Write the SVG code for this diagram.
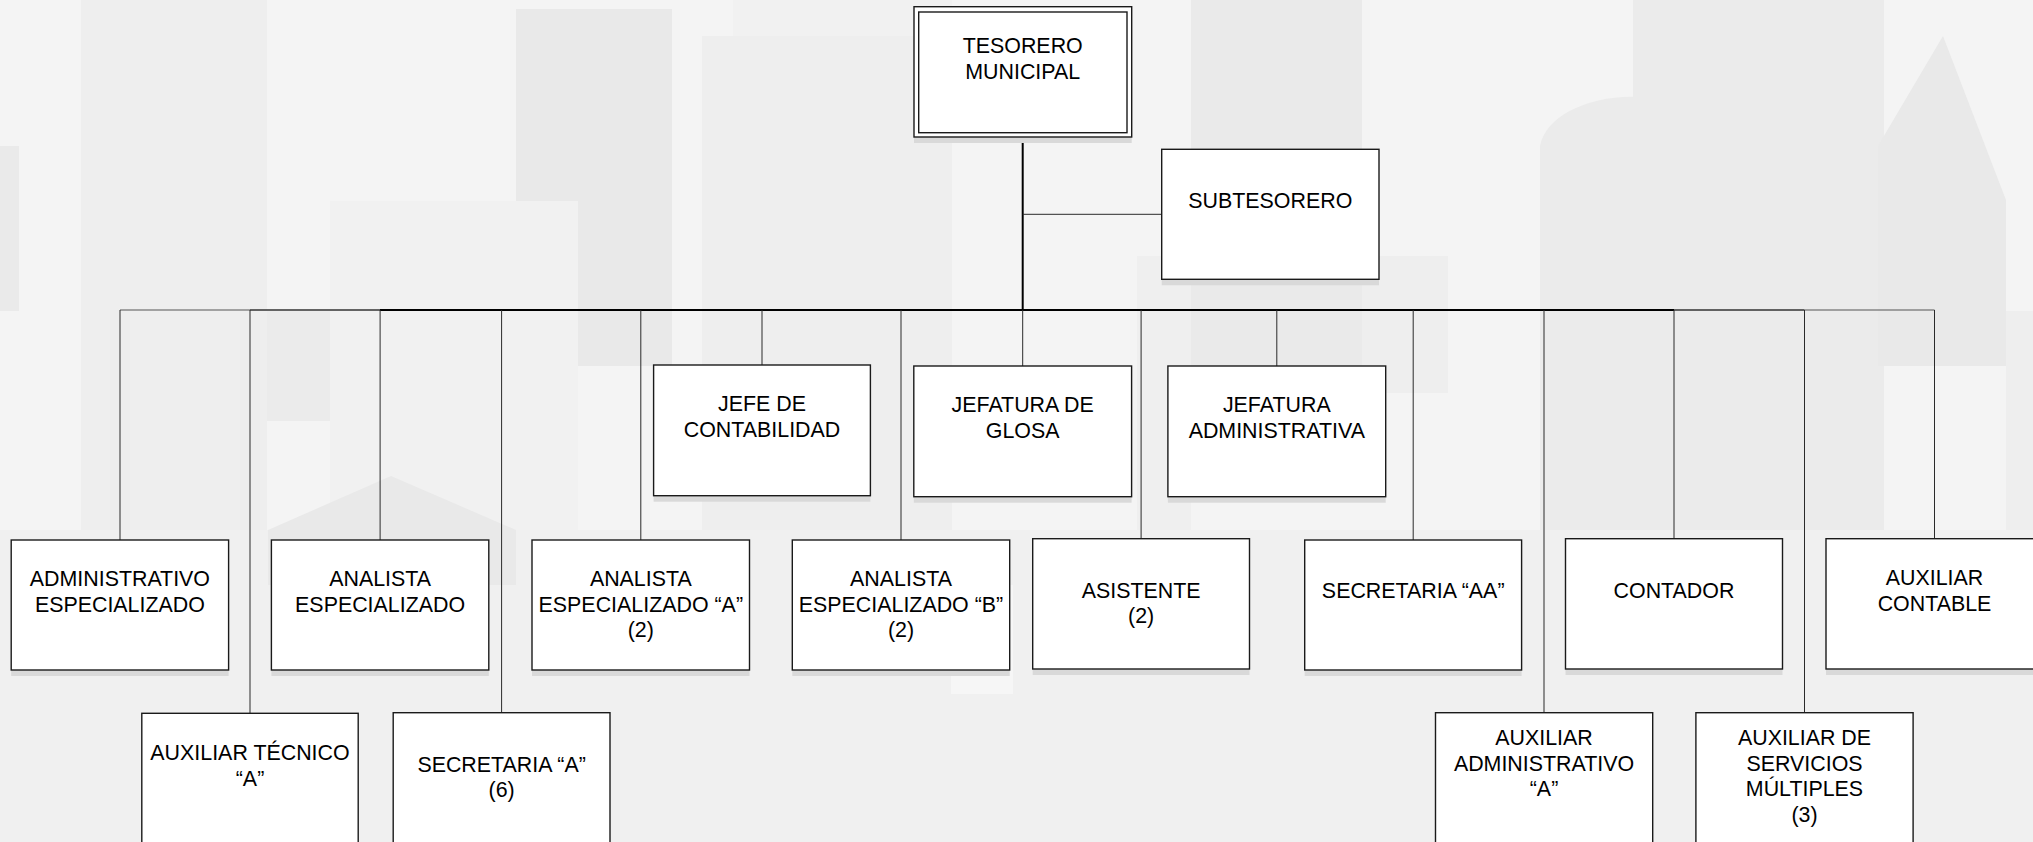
<svg xmlns="http://www.w3.org/2000/svg" width="2033" height="842" viewBox="0 0 2033 842">
<style>
.bx{fill:#ffffff;stroke:#1a1a1a;stroke-width:1.4}
.sh{fill:#d9d9d9}
.t{font-family:"Liberation Sans",Arial,sans-serif;font-size:21.4px;fill:#000;text-anchor:middle}
.c{stroke:#2a2a2a;stroke-width:1;fill:none}
</style>
<g id="background">
<rect x="0" y="0" width="2033" height="842" fill="#f4f4f4"/>
<rect x="0" y="530" width="2033" height="312" fill="#f0f0f0"/>
<rect x="0" y="146" width="19" height="165" fill="#eaeaea"/>
<rect x="81" y="0" width="186" height="530" fill="#eeeeee"/>
<rect x="267" y="311" width="63" height="110" fill="#ebebeb"/>
<rect x="516" y="9" width="156" height="357" fill="#e9e9e9"/>
<rect x="330" y="201" width="248" height="329" fill="#f1f1f1"/>
<polygon points="268,530 391,476 516,530 516,585 268,585" fill="#e9e9e9"/>
<rect x="733" y="0" width="219" height="36" fill="#f1f1f1"/>
<rect x="702" y="36" width="250" height="494" fill="#eeeeee"/>
<rect x="951" y="585" width="62" height="109" fill="#f6f6f6"/>
<rect x="1137" y="256" width="54" height="274" fill="#efefef"/>
<rect x="1191" y="0" width="171" height="421" fill="#eaeaea"/>
<rect x="1362" y="256" width="86" height="137" fill="#eeeeee"/>
<path d="M1540,530 V146 A92,55 0 0 1 1723,146 V530 Z" fill="#ebebeb"/>
<rect x="1633" y="0" width="251" height="530" fill="#ebebeb"/>
<polygon points="1878,146 1943,36 2006,200 2006,366 1878,366" fill="#e9e9e9"/>
<rect x="2006" y="311" width="27" height="219" fill="#eeeeee"/>
<rect x="1789" y="421" width="62" height="54" fill="#ebebeb"/>
</g>
<g id="connectors">
<line x1="1022.7" y1="137" x2="1022.7" y2="310" stroke="#000" stroke-width="2"/>
<line x1="1022.7" y1="214.3" x2="1161.7" y2="214.3" class="c"/>
<line x1="120" y1="310" x2="250" y2="310" stroke="#555" stroke-width="1.2"/>
<line x1="250" y1="310" x2="380" y2="310" stroke="#333" stroke-width="1.5"/>
<line x1="380" y1="310" x2="1674" y2="310" stroke="#000" stroke-width="2"/>
<line x1="1674" y1="310" x2="1804.5" y2="310" stroke="#333" stroke-width="1.5"/>
<line x1="1804.5" y1="310" x2="1934.5" y2="310" stroke="#555" stroke-width="1.2"/>
<line x1="120" y1="310" x2="120" y2="540" class="c"/>
<line x1="250" y1="310" x2="250" y2="713.3" class="c"/>
<line x1="380.1" y1="310" x2="380.1" y2="540" class="c"/>
<line x1="501.6" y1="310" x2="501.6" y2="712.7" class="c"/>
<line x1="640.8" y1="310" x2="640.8" y2="540" class="c"/>
<line x1="762" y1="310" x2="762" y2="365" class="c"/>
<line x1="901" y1="310" x2="901" y2="540" class="c"/>
<line x1="1022.7" y1="310" x2="1022.7" y2="366" class="c"/>
<line x1="1141.1" y1="310" x2="1141.1" y2="538.7" class="c"/>
<line x1="1276.8" y1="310" x2="1276.8" y2="366" class="c"/>
<line x1="1413.2" y1="310" x2="1413.2" y2="540" class="c"/>
<line x1="1544" y1="310" x2="1544" y2="712.7" class="c"/>
<line x1="1674" y1="310" x2="1674" y2="538.7" class="c"/>
<line x1="1804.5" y1="310" x2="1804.5" y2="712.7" class="c"/>
<line x1="1934.5" y1="310" x2="1934.5" y2="538.7" class="c"/>
</g>
<g id="tesorero">
<rect class="sh" x="914" y="12.7" width="217.7" height="130.3"/>
<rect class="bx" x="914" y="6.7" width="217.7" height="130.3"/>
<rect class="bx" x="918.7" y="12" width="208.3" height="120.7"/>
<text class="t" x="1022.7" y="53">TESORERO</text>
<text class="t" x="1022.7" y="79">MUNICIPAL</text>
</g>
<g id="subtesorero">
<rect class="sh" x="1161.7" y="155.3" width="217.3" height="130"/>
<rect class="bx" x="1161.7" y="149.3" width="217.3" height="130"/>
<text class="t" x="1270.3" y="208">SUBTESORERO</text>
</g>
<g id="jefe-contabilidad">
<rect class="sh" x="653.6" y="371" width="216.8" height="130.7"/>
<rect class="bx" x="653.6" y="365" width="216.8" height="130.7"/>
<text class="t" x="762" y="411">JEFE DE</text>
<text class="t" x="762" y="436.7">CONTABILIDAD</text>
</g>
<g id="jefatura-glosa">
<rect class="sh" x="913.8" y="372" width="217.8" height="130.7"/>
<rect class="bx" x="913.8" y="366" width="217.8" height="130.7"/>
<text class="t" x="1022.7" y="412">JEFATURA DE</text>
<text class="t" x="1022.7" y="437.7">GLOSA</text>
</g>
<g id="jefatura-administrativa">
<rect class="sh" x="1167.9" y="372" width="217.8" height="130.7"/>
<rect class="bx" x="1167.9" y="366" width="217.8" height="130.7"/>
<text class="t" x="1276.8" y="412">JEFATURA</text>
<text class="t" x="1276.8" y="437.7">ADMINISTRATIVA</text>
</g>
<g id="administrativo-especializado">
<rect class="sh" x="11.2" y="546" width="217.4" height="130"/>
<rect class="bx" x="11.2" y="540" width="217.4" height="130"/>
<text class="t" x="119.9" y="586">ADMINISTRATIVO</text>
<text class="t" x="119.9" y="611.7">ESPECIALIZADO</text>
</g>
<g id="analista-especializado">
<rect class="sh" x="271.4" y="546" width="217.4" height="130"/>
<rect class="bx" x="271.4" y="540" width="217.4" height="130"/>
<text class="t" x="380.1" y="586">ANALISTA</text>
<text class="t" x="380.1" y="611.7">ESPECIALIZADO</text>
</g>
<g id="analista-especializado-a">
<rect class="sh" x="532" y="546" width="217.5" height="130"/>
<rect class="bx" x="532" y="540" width="217.5" height="130"/>
<text class="t" x="640.8" y="586">ANALISTA</text>
<text class="t" x="640.8" y="611.7">ESPECIALIZADO “A”</text>
<text class="t" x="640.8" y="637.4">(2)</text>
</g>
<g id="analista-especializado-b">
<rect class="sh" x="792.3" y="546" width="217.4" height="130"/>
<rect class="bx" x="792.3" y="540" width="217.4" height="130"/>
<text class="t" x="901" y="586">ANALISTA</text>
<text class="t" x="901" y="611.7">ESPECIALIZADO “B”</text>
<text class="t" x="901" y="637.4">(2)</text>
</g>
<g id="asistente">
<rect class="sh" x="1032.7" y="544.7" width="216.8" height="130.3"/>
<rect class="bx" x="1032.7" y="538.7" width="216.8" height="130.3"/>
<text class="t" x="1141.1" y="597.7">ASISTENTE</text>
<text class="t" x="1141.1" y="623.3">(2)</text>
</g>
<g id="secretaria-aa">
<rect class="sh" x="1304.7" y="546" width="216.9" height="130"/>
<rect class="bx" x="1304.7" y="540" width="216.9" height="130"/>
<text class="t" x="1413.2" y="598.3">SECRETARIA “AA”</text>
</g>
<g id="contador">
<rect class="sh" x="1565.5" y="544.7" width="217" height="130.3"/>
<rect class="bx" x="1565.5" y="538.7" width="217" height="130.3"/>
<text class="t" x="1674" y="598.3">CONTADOR</text>
</g>
<g id="auxiliar-contable">
<rect class="sh" x="1826" y="544.7" width="217" height="130.3"/>
<rect class="bx" x="1826" y="538.7" width="217" height="130.3"/>
<text class="t" x="1934.5" y="585">AUXILIAR</text>
<text class="t" x="1934.5" y="610.7">CONTABLE</text>
</g>
<g id="auxiliar-tecnico-a">
<rect class="bx" x="141.8" y="713.3" width="216.4" height="140"/>
<text class="t" x="250" y="760">AUXILIAR TÉCNICO</text>
<text class="t" x="250" y="785.7">“A”</text>
</g>
<g id="secretaria-a">
<rect class="bx" x="393.2" y="712.7" width="216.8" height="140"/>
<text class="t" x="501.6" y="771.7">SECRETARIA “A”</text>
<text class="t" x="501.6" y="797.3">(6)</text>
</g>
<g id="auxiliar-administrativo-a">
<rect class="bx" x="1435.5" y="712.7" width="217.2" height="140"/>
<text class="t" x="1544" y="745">AUXILIAR</text>
<text class="t" x="1544" y="770.7">ADMINISTRATIVO</text>
<text class="t" x="1544" y="796.4">“A”</text>
</g>
<g id="auxiliar-servicios-multiples">
<rect class="bx" x="1695.9" y="712.7" width="217.2" height="140"/>
<text class="t" x="1804.5" y="745">AUXILIAR DE</text>
<text class="t" x="1804.5" y="770.7">SERVICIOS</text>
<text class="t" x="1804.5" y="796.4">MÚLTIPLES</text>
<text class="t" x="1804.5" y="822">(3)</text>
</g>
</svg>
